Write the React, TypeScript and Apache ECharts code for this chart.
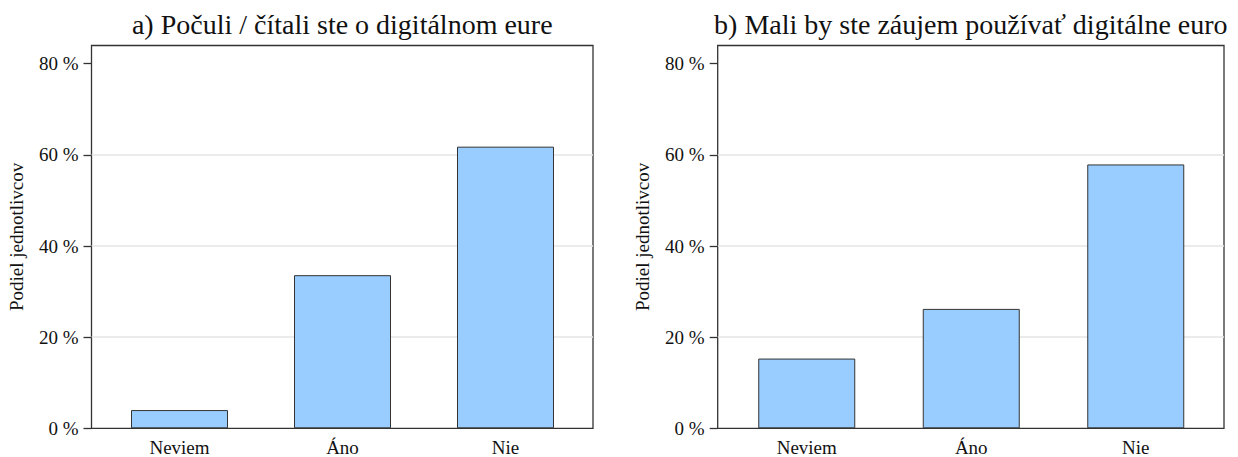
import React, { useEffect, useRef } from "react";
import * as echarts from "echarts";

const categories = ["Neviem", "Áno", "Nie"];
const heardValues = [4.0, 33.6, 61.8];
const interestValues = [15.3, 26.2, 57.9];
const yTicks = [0, 20, 40, 60, 80];
const panelTitles = [
  "a) Počuli / čítali ste o digitálnom eure",
  "b) Mali by ste záujem používať digitálne euro",
];
const yAxisName = "Podiel jednotlivcov";

const FONT = "Liberation Serif";
const TEXT = "#111111";
const FRAME = "#333333";

const TOP = 45.5;
const HEIGHT = 382.8;
const panels = [
  { frameLeft: 91.5, frameWidth: 501.5, barLeft: 98, barWidth: 489 },
  { frameLeft: 717.7, frameWidth: 506.3, barLeft: 724.5, barWidth: 493.5 },
];

export default function App() {
  const ref = useRef<HTMLDivElement>(null);

  useEffect(() => {
    if (!ref.current) return;
    const chart = echarts.init(ref.current, undefined, { renderer: "svg" });
    const seriesData = [heardValues, interestValues];

    const grid: any[] = [];
    const xAxis: any[] = [];
    const yAxis: any[] = [];
    const series: any[] = [];
    const title: any[] = [];

    panels.forEach((p, i) => {
      grid.push({
        left: p.frameLeft,
        top: TOP,
        width: p.frameWidth,
        height: HEIGHT,
        show: true,
        borderColor: FRAME,
        borderWidth: 1.3,
        backgroundColor: "transparent",
        containLabel: false,
        outerBoundsMode: "none",
      });
      grid.push({
        left: p.barLeft,
        top: TOP,
        width: p.barWidth,
        height: HEIGHT,
        containLabel: false,
        outerBoundsMode: "none",
      });

      xAxis.push({ gridIndex: 2 * i, type: "category", data: categories, show: false });
      xAxis.push({
        gridIndex: 2 * i + 1,
        type: "category",
        data: categories,
        axisLine: { show: false, onZero: false },
        axisTick: { show: false },
        splitLine: { show: false },
        axisLabel: { fontSize: 19, fontFamily: FONT, color: TEXT, margin: 10 },
      });

      yAxis.push({
        gridIndex: 2 * i,
        type: "value",
        min: 0,
        max: 84,
        interval: 20,
        name: yAxisName,
        nameLocation: "middle",
        nameGap: 66,
        nameRotate: 90,
        nameTextStyle: { fontSize: 19, fontFamily: FONT, color: TEXT },
        axisLine: { show: false },
        axisTick: {
          show: true,
          length: 8,
          customValues: yTicks,
          lineStyle: { color: FRAME, width: 1.3 },
        },
        axisLabel: {
          customValues: yTicks,
          formatter: (v: number) => `${v} %`,
          margin: 13,
          fontSize: 19,
          fontFamily: FONT,
          color: TEXT,
        },
        splitLine: {
          show: true,
          showMinLine: false,
          showMaxLine: false,
          lineStyle: { color: "#e5e5e5", width: 1.5 },
        },
      });
      yAxis.push({ gridIndex: 2 * i + 1, type: "value", min: 0, max: 84, show: false });

      series.push({
        type: "bar",
        xAxisIndex: 2 * i + 1,
        yAxisIndex: 2 * i + 1,
        data: seriesData[i],
        barWidth: 97,
        itemStyle: { color: "#99CCFF", borderColor: FRAME, borderWidth: 1 },
      });

      title.push({
        text: panelTitles[i],
        left: p.frameLeft + p.frameWidth / 2,
        top: 10,
        textAlign: "center",
        padding: 0,
        textStyle: { fontSize: 28, fontFamily: FONT, color: TEXT, fontWeight: "normal" },
      });
    });

    chart.setOption({
      animation: false,
      backgroundColor: "#ffffff",
      title,
      grid,
      xAxis,
      yAxis,
      series,
    });
    return () => chart.dispose();
  }, []);

  return (
    <div
      ref={ref}
      style={{ position: "fixed", left: 0, top: 0, width: 1238, height: 457, background: "#fff" }}
    />
  );
}
